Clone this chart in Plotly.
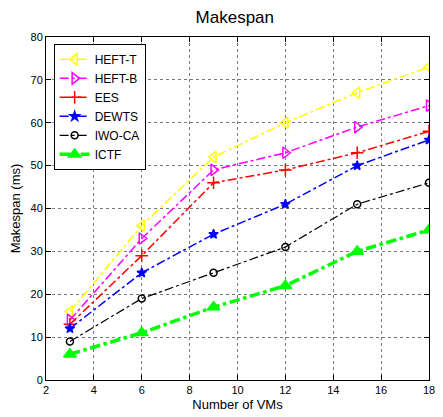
import plotly.graph_objects as go

vms = [3, 6, 9, 12, 15, 18]
heft_t = [16, 36, 52, 60, 67, 73]
heft_b = [14, 33, 49, 53, 59, 64]
ees = [13, 29, 46, 49, 53, 58]
dewts = [12, 25, 34, 41, 50, 56]
iwo_ca = [9, 19, 25, 31, 41, 46]
ictf = [6, 11, 17, 22, 30, 35]

series = [
    ("HEFT-T", heft_t, "#FFFF00", "triangle-left-open", 1.5, 10),
    ("HEFT-B", heft_b, "#FF00FF", "triangle-right-open", 1.5, 10),
    ("EES", ees, "#FF0000", "cross-thin-open", 1.5, 9),
    ("DEWTS", dewts, "#0000FF", "star", 1.5, 7),
    ("IWO-CA", iwo_ca, "#000000", "circle-open", 1.2, 7),
    ("ICTF", ictf, "#00FF00", "triangle-up", 3.5, 11),
]

fig = go.Figure()
for name, vals, color, sym, lw, ms in series:
    fig.add_trace(go.Scatter(
        x=vms, y=vals, name=name, mode="lines+markers",
        line=dict(color=color, width=lw, dash="dashdot"),
        marker=dict(symbol=sym, size=ms, color=color,
                    line=dict(color=color, width=1.5)),
    ))

axis_common = dict(
    showline=True, linecolor="black", linewidth=1, mirror="ticks",
    ticks="inside", ticklen=5, tickcolor="black",
    showgrid=True, gridcolor="#777777", griddash="dot", gridwidth=1,
    zeroline=False, tickfont=dict(size=11, color="black"),
)

fig.update_layout(
    width=443, height=417,
    margin=dict(l=46, r=8, t=37, b=36),
    paper_bgcolor="white", plot_bgcolor="white",
    font=dict(family="Liberation Sans, Arial, sans-serif", color="black"),
    title=dict(text="Makespan", x=0.53, xanchor="center", y=0.96, yanchor="middle",
               font=dict(size=17, color="black")),
    xaxis=dict(range=[2, 18], dtick=2,
               title=dict(text="Number of VMs", standoff=4, font=dict(size=13)),
               **axis_common),
    yaxis=dict(range=[0, 80], dtick=10,
               title=dict(text="Makespan (ms)", standoff=6, font=dict(size=13)),
               **axis_common),
    legend=dict(x=0.02, y=0.98, xanchor="left", yanchor="top",
                bgcolor="white", bordercolor="black", borderwidth=1,
                font=dict(size=12), tracegroupgap=0, itemwidth=30),
    showlegend=True,
)

fig.write_html("out.html")
